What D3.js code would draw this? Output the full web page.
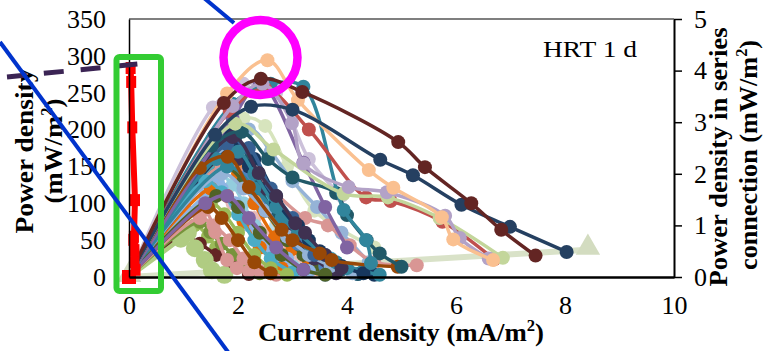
<!DOCTYPE html>
<html><head><meta charset="utf-8">
<script src="https://cdn.jsdelivr.net/npm/d3@7"></script>
<style>
html,body{margin:0;padding:0;background:#fff;}
svg{display:block;}
text{font-family:"Liberation Serif","Times New Roman",serif;}
</style></head>
<body><svg id="c" width="764" height="351"></svg>
<script>
// ---- data ----
const xTicks = [0, 2, 4, 6, 8, 10];
const yLeftTicks = [0, 50, 100, 150, 200, 250, 300, 350];
const yRightTicks = [0, 1, 2, 3, 4, 5];

const seriesColors = [
  "#ccc1da","#d7e4bd","#b7dee8","#e6b9b8","#9bbb59","#632523","#b0cc82","#77933c","#93cddd",
  "#4bacc6","#f79646","#e46c0a","#4f6228","#95b3d7","#8eb4e3","#d99694","#d99694",
  "#4f81bd","#17375e","#215968","#8eb4e3","#d99694","#e46c0a","#4bacc6","#9bbb59",
  "#3f3151","#95b3d7","#31859c","#984807","#4f6228","#8064a2",
  "#376092","#17375e","#31859c","#3f3151","#8064a2","#984807","#215968","#31859c",
  "#c0504d","#c3d69b","#b3a2c7","#fac090","#254061","#632523"
];
const seriesCurrent = [
  [0,1.54,2.1,2.7,3.3,3.9],
  [0,2.1,2.5,2.9,3.4,4.5],
  [0,1.6,2.0,2.35,2.7,3.2],
  [0,1.5,1.9,2.3,2.8,3.4],
  [0,1.2,1.45,1.6,1.9,2.2],
  [0,1.0,1.3,1.6,1.9,2.2],
  [0,0.95,1.08,1.21,1.39,1.52,1.75],
  [0,1.3,1.49,1.7,1.9,2.1,2.4],
  [0,1.6,1.9,2.1,2.3,2.6,3.0],
  [0,1.9,2.2,2.5,2.9,3.3,3.7],
  [0,1.75,2.1,2.5,3.0,3.5],
  [0,1.7,2.0,2.3,2.68,3.0,3.3],
  [0,1.7,2.1,2.5,2.9,3.2,3.5],
  [0,2.2,2.6,3.0,3.45,3.9,4.4],
  [0,1.27,1.63,1.95,2.2,2.55,2.8,3.05],
  [0,1.08,1.39,1.58,1.8,1.98,2.2],
  [0,1.7,2.4,3.23,3.65,4.05,4.5,5.28],
  [0,1.5,1.85,2.2,2.6,3.1,3.6,4.2],
  [0,1.9,2.3,2.7,3.1,3.5,3.9,4.5],
  [0,1.6,1.95,2.4,2.9,3.4,3.9,4.2],
  [0,1.4,1.7,2.0,2.4,2.9,3.3,3.6],
  [0,1.3,1.55,1.85,2.1,2.4,2.7],
  [0,1.5,1.8,2.1,2.4,2.8],
  [0,1.4,1.7,2.0,2.3,2.6,3.0],
  [0,1.5,1.75,2.0,2.3,2.6,2.9],
  [0,2.0,2.5,3.0,3.4,3.8],
  [0,1.7,2.1,2.5,2.9,3.3,3.7,4.1],
  [0,1.8,2.3,2.8,3.3,3.8,4.3,4.6],
  [0,1.45,1.7,2.0,2.3,2.6],
  [0,1.6,2.0,2.4,2.8,3.2,3.6],
  [0,1.4,1.8,2.2,2.7,3.2],
  [0,1.8,2.2,2.6,3.0,3.4],
  [0,1.55,1.8,2.2,2.7,3.3,3.9,4.3],
  [0,1.6,2.0,2.3,2.7,3.1,3.6,4.0],
  [0,1.9,2.38,2.7,3.05,3.23,3.6,3.9],
  [0,1.9,2.4,3.2,3.6,4.0],
  [0,1.3,1.81,2.2,2.8,3.0,3.5,3.72,4.93],
  [0,1.52,2.07,2.55,3.0,3.8,4.0,4.36,4.6,5.0],
  [0,1.9,2.6,3.2,3.94,4.35,4.44],
  [0,1.85,2.5,3.3,4.35,4.8,5.75,6.7],
  [0,1.95,2.65,3.94,4.75,5.7,6.86],
  [0,1.9,2.45,2.99,3.2,4.03,4.73,5.8,6.07,6.6],
  [0,1.8,2.54,3.1,4.4,4.85,5.74,5.95,6.68],
  [0,1.58,2.24,3.0,4.61,5.21,6.1,6.99,8.03],
  [0,1.74,2.42,3.18,4.94,5.43,6.28,6.83,7.46]
];
const seriesPower = [
  [0,230,262,250,160,110],
  [0,215,205,150,90,40],
  [0,145,150,110,70,20],
  [0,110,100,80,40,10],
  [0,70,55,40,20,5],
  [0,55,45,30,15,4],
  [0,52,60,39,23,9,3],
  [0,75,61,45,30,15,5],
  [0,140,125,100,70,40,15],
  [0,170,150,110,70,45,25],
  [0,170,150,90,40,10],
  [0,160,140,100,54,38,22],
  [0,150,130,90,50,30,12],
  [0,200,170,130,95,60,20],
  [0,125,129,100,70,40,20,8],
  [0,88,91,61,23,12,8],
  [0,150,130,80,70,43,20,16],
  [0,170,180,140,90,45,15,4],
  [0,175,160,110,70,35,12,3],
  [0,185,190,120,60,30,10,4],
  [0,110,120,95,55,25,8,3],
  [0,80,70,50,25,8,3],
  [0,120,110,75,40,12],
  [0,130,115,85,50,25,6],
  [0,100,85,60,30,12,3],
  [0,160,120,60,25,5],
  [0,140,120,90,55,30,15,5],
  [0,150,120,80,45,20,8,3],
  [0,95,80,50,20,5],
  [0,110,95,60,30,10,3],
  [0,100,110,80,40,10],
  [0,180,175,120,80,30],
  [0,190,195,150,100,50,15,5],
  [0,160,170,140,95,60,30,12],
  [0,190,141,110,73,60,30,12],
  [0,215,262,155,95,40],
  [0,148,163,122,64,50,32,23,14],
  [0,178,197,160,135,114,84,50,32,14],
  [0,235,262,258,91,50,19],
  [0,225,255,200,108,103,75,24],
  [0,208,173,113,108,80,26],
  [0,232,262,209,154,122,115,83,53,25],
  [0,249,294,240,145,121,81,51,23],
  [0,193,231,227,159,138,98,68,34],
  [0,236,269,251,183,149,100,64,29]
];
// line through triangles (left axis)
const triCurrent = [0, 8.42];
const triPower = [0, 37];
// series connection (right axis)
const connCurrent = [0, 0.12, 0.1, 0.1, 0.08, 0.09, 0.11, 0.06, 0.04, 0.03];
const connPower = [0, 0.14, 0.29, 0.52, 0.72, 0.78, 1.49, 2.9, 3.78, 4.05];

// ---- layout ----
const svg = d3.select("#c");
const x = d3.scaleLinear().domain([0, 10]).range([129, 674]);
const yL = d3.scaleLinear().domain([0, 350]).range([277, 19]);
const yR = d3.scaleLinear().domain([0, 5]).range([277, 19]);
const FONT = '"Liberation Serif","Times New Roman",serif';

// frame
svg.append("line").attr("x1", x(0)).attr("x2", x(10)).attr("y1", yL(350)).attr("y2", yL(350))
  .attr("stroke", "#000").attr("stroke-width", 1.2);

// triangle series line (behind)
const triPts = triCurrent.map((v, j) => [v, triPower[j]]);
svg.append("path").attr("d", d3.line().x(d => x(d[0])).y(d => yL(d[1]))(triPts))
  .attr("stroke", "#d9e2c8").attr("stroke-width", 6).attr("fill", "none");

// series
const line = d3.line().x(d => x(d[0])).y(d => yL(d[1])).curve(d3.curveCatmullRom.alpha(0.5));
const gS = svg.append("g");
seriesCurrent.forEach((xs, i) => {
  const pts = xs.map((v, j) => [v, seriesPower[i][j]]);
  const big = seriesColors[i] === "#b0cc82";
  gS.append("path").attr("d", line(pts)).attr("fill", "none")
    .attr("stroke", seriesColors[i]).attr("stroke-width", big ? 4.5 : 3.5);
  gS.selectAll(null).data(pts.slice(1)).enter().append("circle")
    .attr("cx", d => x(d[0])).attr("cy", d => yL(d[1])).attr("r", big ? 9 : 7)
    .attr("fill", seriesColors[i]);
});

// triangle markers
svg.selectAll(null).data(triPts).enter().append("path")
  .attr("d", d3.symbol(d3.symbolTriangle, 260)())
  .attr("transform", d => `translate(${x(d[0])},${yL(d[1]) - 2})`)
  .attr("fill", "#d3dcc0");

// connection series (right axis)
const connPts = connCurrent.map((v, j) => [v, connPower[j]]);
svg.append("path").attr("d", d3.line().x(d => x(d[0])).y(d => yR(d[1]))(connPts))
  .attr("stroke", "#ff0000").attr("stroke-width", 6).attr("fill", "none");
svg.selectAll(null).data(connPts).enter().append("rect")
  .attr("x", (d, j) => x(d[0]) - (j === 0 ? 7 : 5))
  .attr("y", (d, j) => yR(d[1]) - (j === 0 ? 7 : 6))
  .attr("width", (d, j) => j === 0 ? 14 : 10).attr("height", (d, j) => j === 0 ? 14 : 12)
  .attr("fill", "#ff0000");

// axes
const axL = svg.append("g").attr("transform", `translate(${x(0)},0)`)
  .call(d3.axisLeft(yL).tickValues(yLeftTicks).tickSize(0).tickPadding(23).tickSizeOuter(0));
axL.select(".domain").attr("stroke", "#000").attr("stroke-width", 1.5);
axL.selectAll("text").attr("font-size", 26).attr("font-family", FONT).attr("fill", "#000");

const axB = svg.append("g").attr("transform", `translate(0,${yL(0)})`)
  .call(d3.axisBottom(x).tickValues(xTicks).tickSize(0).tickPadding(19).tickSizeOuter(0));
axB.select(".domain").attr("stroke", "#000").attr("stroke-width", 2.5);
axB.selectAll("text").attr("font-size", 26).attr("font-family", FONT).attr("fill", "#000");

const axR = svg.append("g").attr("transform", `translate(${x(10)},0)`)
  .call(d3.axisRight(yR).tickValues(yRightTicks).tickFormat(d3.format("d"))
    .tickSize(8).tickPadding(12).tickSizeOuter(0));
axR.select(".domain").attr("stroke", "#000").attr("stroke-width", 2);
axR.selectAll("line").attr("stroke", "#000").attr("stroke-width", 1.5);
axR.selectAll("text").attr("font-size", 26).attr("font-family", FONT).attr("fill", "#000");

// titles
function title(tx, ty, rot, parts, len, size) {
  const t = svg.append("text")
    .attr("transform", `translate(${tx},${ty}) rotate(${rot})`)
    .attr("text-anchor", "middle").attr("font-weight", "bold").attr("font-size", size)
    .attr("font-family", FONT).attr("textLength", len).attr("lengthAdjust", "spacingAndGlyphs");
  parts.forEach(p => {
    const s = t.append("tspan").text(p.t);
    if (p.sup) s.attr("font-size", size * 0.62).attr("dy", -size * 0.38);
    if (p.after) s.attr("dy", size * 0.38);
  });
}
title(401, 341, 0, [{t: "Current density (mA/m"}, {t: "2", sup: true}, {t: ")", after: true}], 286, 26);
title(33, 151, -90, [{t: "Power density"}], 165, 26);
title(62, 151, -90, [{t: "(mW/m"}, {t: "2", sup: true}, {t: ")", after: true}], 105, 26);
title(727, 157, -90, [{t: "Power density in series"}], 259, 26);
title(757, 155, -90, [{t: "connection (mW/m"}, {t: "2", sup: true}, {t: ")", after: true}], 230, 26);

svg.append("text").attr("x", 543).attr("y", 57).attr("font-size", 24).attr("font-family", FONT)
  .attr("textLength", 94).attr("lengthAdjust", "spacingAndGlyphs").text("HRT 1 d");

// annotations
svg.append("line").attr("x1", 7).attr("y1", 77).attr("x2", 138).attr("y2", 64)
  .attr("stroke", "#3b2454").attr("stroke-width", 5).attr("stroke-dasharray", "20,17");
svg.append("rect").attr("x", 116.5).attr("y", 57).attr("width", 44.5).attr("height", 234).attr("rx", 3)
  .attr("fill", "none").attr("stroke", "#33cc33").attr("stroke-width", 6);
svg.append("line").attr("x1", 0).attr("y1", 42).attr("x2", 228).attr("y2", 352)
  .attr("stroke", "#0033cc").attr("stroke-width", 4);
svg.append("line").attr("x1", 204).attr("y1", -2).attr("x2", 234).attr("y2", 23)
  .attr("stroke", "#0033cc").attr("stroke-width", 4);
svg.append("ellipse").attr("cx", 260.5).attr("cy", 57.5).attr("rx", 37).attr("ry", 37.5)
  .attr("fill", "none").attr("stroke", "#ff00ff").attr("stroke-width", 8.5);
</script></body></html>
